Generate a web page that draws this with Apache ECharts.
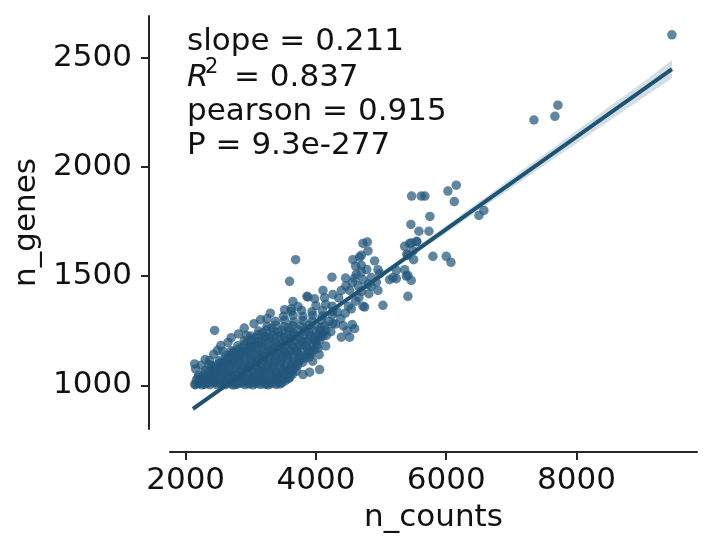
<!DOCTYPE html>
<html>
<head>
<meta charset="utf-8">
<script src="https://cdn.jsdelivr.net/npm/echarts@6/dist/echarts.min.js"></script>
<style>
html, body { margin: 0; padding: 0; background: #fff; }
#chart { width: 711px; height: 550px; }
</style>
</head>
<body>
<div id="chart"></div>
<script>
// cells: [n_counts, n_genes]
var cells = [
  // dense blob, bottom rows
  [2140,1004],[2195,1009],[2250,1002],[2310,1007],[2370,1003],[2430,1010],[2490,1002],[2550,1006],[2610,1003],[2670,1008],[2730,1001],[2790,1005],[2850,1009],[2910,1003],[2970,1006],[3030,1002],[3090,1008],[3150,1004],[3210,1007],[3270,1002],[3330,1009],[3390,1004],[3450,1006],
  [2165,1024],[2240,1030],[2310,1022],[2385,1027],[2455,1021],[2530,1029],[2600,1024],[2675,1031],[2745,1022],[2820,1027],[2890,1020],[2965,1030],[3035,1025],[3110,1021],[3180,1028],[3255,1023],[3325,1030],[3400,1024],[3470,1027],[3530,1021],
  [2200,1046],[2285,1051],[2370,1043],[2455,1050],[2540,1045],[2625,1052],[2710,1044],[2795,1049],[2880,1046],[2965,1053],[3050,1044],[3135,1050],[3220,1047],[3305,1052],[3390,1043],[3475,1049],[3560,1046],[3640,1051],
  [2300,1068],[2390,1073],[2480,1066],[2570,1072],[2660,1069],[2750,1075],[2840,1067],[2930,1071],[3020,1066],[3110,1074],[3200,1068],[3290,1072],[3380,1065],[3470,1073],[3560,1069],[3650,1071],[3700,1064],
  [2400,1090],[2495,1095],[2590,1088],[2685,1094],[2780,1091],[2875,1097],[2970,1089],[3065,1093],[3160,1088],[3255,1096],[3350,1090],[3445,1094],[3540,1089],[3630,1095],[3720,1091],
  [2520,1113],[2615,1118],[2710,1111],[2805,1117],[2900,1114],[2995,1119],[3090,1112],[3185,1116],[3280,1110],[3375,1118],[3470,1113],[3565,1117],[3660,1112],[3760,1116],
  [2620,1136],[2715,1141],[2810,1134],[2905,1140],[3000,1137],[3095,1142],[3190,1135],[3285,1139],[3380,1134],[3475,1141],[3570,1136],[3665,1140],[3760,1135],[3860,1139],
  [2700,1158],[2800,1163],[2900,1157],[3000,1162],[3100,1159],[3200,1164],[3300,1156],[3400,1161],[3500,1158],[3600,1163],[3700,1157],[3800,1162],[3900,1159],[3970,1164],
  [2800,1181],[2905,1186],[3010,1180],[3115,1185],[3220,1182],[3325,1187],[3430,1179],[3535,1184],[3640,1181],[3745,1186],[3850,1180],[3950,1185],[4010,1182],
  [2900,1204],[3010,1209],[3120,1202],[3230,1208],[3340,1205],[3450,1210],[3560,1203],[3670,1207],[3780,1202],[3890,1209],[3990,1204],[4060,1208],
  [3000,1226],[3115,1231],[3230,1224],[3345,1230],[3460,1227],[3575,1232],[3690,1225],[3805,1229],[3920,1224],[4030,1231],[4110,1226],
  [3120,1248],[3240,1253],[3360,1246],[3480,1252],[3600,1249],[3720,1254],[3840,1247],[3960,1251],[4070,1246],[4150,1253],
  [3250,1270],[3380,1275],[3510,1268],[3640,1274],[3770,1271],[3900,1276],[4020,1269],[4140,1273],
  [3380,1293],[3520,1298],[3660,1291],[3800,1297],[3940,1294],[4080,1299],[4200,1292],
  [3500,1316],[3650,1321],[3800,1315],[3950,1320],[4100,1317],[4250,1322],
  [3620,1338],[3780,1343],[3940,1337],[4100,1342],[4260,1339],
  // second pass over the blob, between the rows
  [2220,1015],[2340,1013],[2460,1016],[2580,1014],[2700,1017],[2820,1013],[2940,1016],[3060,1014],[3180,1017],[3300,1013],[3420,1016],
  [2260,1037],[2420,1036],[2570,1039],[2720,1035],[2870,1038],[3020,1036],[3170,1039],[3320,1035],[3500,1038],[3600,1036],
  [2340,1058],[2510,1060],[2690,1057],[2870,1061],[3050,1058],[3230,1060],[3410,1057],[3600,1060],
  [2440,1081],[2620,1082],[2800,1080],[2980,1083],[3160,1081],[3340,1082],[3520,1080],[3680,1083],
  [2560,1104],[2740,1105],[2920,1103],[3100,1106],[3280,1104],[3460,1105],[3640,1103],[3800,1106],
  [2660,1127],[2840,1128],[3020,1126],[3200,1129],[3380,1127],[3560,1128],[3740,1126],[3900,1129],
  [2760,1149],[2950,1150],[3140,1148],[3330,1151],[3520,1149],[3710,1150],[3900,1148],
  [2860,1172],[3060,1173],[3260,1171],[3460,1174],[3660,1172],[3860,1173],
  [2960,1195],[3170,1196],[3380,1194],[3590,1197],[3800,1195],[4000,1196],
  [3060,1217],[3290,1218],[3520,1216],[3750,1219],[3980,1217],
  [3180,1239],[3420,1240],[3660,1238],[3900,1241],[4100,1239],
  [3320,1261],[3580,1262],[3840,1260],[4080,1263],
  // third pass, the densest core
  [2280,1005],[2520,1012],[2760,1004],[3000,1011],[3240,1005],[3480,1012],
  [2380,1034],[2640,1041],[2900,1033],[3160,1040],[3420,1034],[3580,1030],
  [2440,1062],[2780,1055],[3140,1063],[3500,1056],
  [2530,1085],[2890,1078],[3250,1086],[3610,1078],
  [2650,1108],[3010,1100],[3370,1108],[3720,1100],
  [2780,1130],[3140,1122],[3500,1131],[3820,1123],
  [2880,1152],[3240,1145],[3600,1153],[3930,1146],
  [2990,1176],[3360,1168],[3730,1176],[4030,1170],
  [3100,1198],[3480,1190],[3860,1199],
  [3220,1222],[3620,1213],[4050,1220],
  // loose points round the blob
  [2138,1098],[2153,1075],[2189,1034],[2153,1003],[2240,1092],[2300,1118],[2368,1113],[2358,1095],[2419,1067],[2533,1103],
  [2430,1142],[2490,1160],[2573,1155],[2540,1182],[2650,1196],[2726,1152],[2700,1218],[2810,1235],[2932,1228],[2445,1251],
  [2900,1262],[3050,1282],[3248,1305],[3150,1300],[3300,1330],[3596,1476],[3689,1575],
  [3801,1049],[3903,1060],[4057,1072],[3950,1110],[4050,1140],[4150,1180],
  // middle band
  [3520,1346],[3622,1350],[3724,1361],[3647,1384],[3877,1404],[3862,1407],[3980,1396],[4134,1401],[4261,1416],[4108,1434],
  [4000,1365],[4150,1370],[4250,1362],[4330,1335],[4380,1305],[4300,1280],[4420,1272],[4261,1282],[4390,1220],[4517,1220],
  [4594,1259],[4558,1278],[4480,1250],[4160,1228],[4230,1245],[4450,1330],[4500,1362],[4543,1350],[4610,1385],[4660,1402],
  [4390,1434],[4517,1434],[4460,1455],[4560,1470],[4350,1400],[4246,1495],[4456,1491],[4594,1491],[4722,1483],[4850,1493],
  [4978,1511],[4722,1362],[4748,1358],[5029,1366],[4813,1419],[4952,1434],[4850,1453],[4799,1462],[4928,1472],[4700,1430],[4650,1455],
  // upper sparse points
  [4722,1649],[4789,1656],[4799,1615],[4697,1595],[4568,1575],[4901,1569],[4697,1549],[4952,1529],[4697,1518],[4670,1587],[4610,1545],[4780,1530],[4620,1508],
  [5362,1636],[5438,1649],[5541,1656],[5396,1600],[5500,1575],[5362,1529],[5412,1503],[5464,1480],[5388,1500],[5131,1483],[5234,1488],
  [5234,1526],[5183,1493],[5412,1407],[5464,1651],[5489,1615],[5412,1595],[5550,1659],
  [5469,1866],[5617,1866],[5673,1866],[6026,1889],[6155,1916],[6124,1841],[5750,1773],[5458,1736],[5581,1705],[5735,1705],
  [5796,1590],[6001,1590],[6073,1563],
  [6502,1777],[6579,1800],[7347,2214],[7669,2231],[7715,2282],[9465,2604]
];

// regression line ends and 95% band
var fitX = [2112, 9465];
var fitY = [892, 2447];
var bandX  = [2112, 2600, 3100, 3600, 4100, 4600, 5100, 5600, 6100, 6600, 7100, 7600, 8100, 8600, 9100, 9465];
var bandLo = [880, 989, 1096, 1202, 1306, 1410, 1513, 1616, 1718, 1821, 1923, 2026, 2127, 2230, 2332, 2405];
var bandHi = [905, 1005, 1108, 1214, 1320, 1428, 1535, 1644, 1752, 1861, 1969, 2078, 2187, 2296, 2404, 2489];

var xTicks = [2000, 4000, 6000, 8000];
var yTicks = [1000, 1500, 2000, 2500];

var statLines = ['slope = 0.211', '= 0.837', 'pearson = 0.915', 'P = 9.3e-277'];

var FONT = 'DejaVu Sans';
var FS = 31;
var INK = '#262626';
var TXT = '#111';
var DOT = '#22587b';
var LINE = '#1f5374';

var fitData = fitX.map(function (x, i) { return [x, fitY[i]]; });

var chart = echarts.init(document.getElementById('chart'));

function axisCommon(ticks) {
   return {
      type: 'value',
      nameLocation: 'middle',
      nameTextStyle: { fontFamily: FONT, fontSize: FS, color: TXT },
      axisLine: { show: true, onZero: false, lineStyle: { color: INK, width: 2 } },
      axisTick: { show: true, length: 8, lineStyle: { color: INK, width: 2 }, customValues: ticks },
      axisLabel: { customValues: ticks, fontFamily: FONT, fontSize: FS, color: TXT,
                   formatter: function (v) { return String(v); } },
      splitLine: { show: false }
   };
}

var xAxis = axisCommon(xTicks);
xAxis.min = 1760; xAxis.max = 9850;
xAxis.offset = 23;
xAxis.name = 'n_counts';
xAxis.nameGap = 50;
xAxis.axisLabel.margin = 13;

var yAxis = axisCommon(yTicks);
yAxis.min = 800; yAxis.max = 2690;
yAxis.offset = 21;
yAxis.name = 'n_genes';
yAxis.nameGap = 86;
yAxis.axisLabel.margin = 17;

// confidence band drawn as one polygon through the axes
function renderBand(params, api) {
   var pts = [];
   for (var i = 0; i < bandX.length; i++) pts.push(api.coord([bandX[i], bandHi[i]]));
   for (var j = bandX.length - 1; j >= 0; j--) pts.push(api.coord([bandX[j], bandLo[j]]));
   return { type: 'polygon', shape: { points: pts }, style: { fill: 'rgba(31,84,120,0.2)' } };
}

var option = {
   animation: false,
   backgroundColor: '#fff',
   grid: { left: 170, right: 14, top: 16, bottom: 121 },
   xAxis: xAxis,
   yAxis: yAxis,
   graphic: [
      { type: 'text', left: 187, top: 26, style: { text: statLines[0], fontFamily: FONT, fontSize: FS, fill: TXT } },
      { type: 'text', left: 187, top: 62, style: { text: 'R', fontFamily: FONT, fontStyle: 'italic', fontSize: FS, fill: TXT } },
      { type: 'text', left: 205, top: 57, style: { text: '2', fontFamily: FONT, fontSize: 21, fill: TXT } },
      { type: 'text', left: 234, top: 62, style: { text: statLines[1], fontFamily: FONT, fontSize: FS, fill: TXT } },
      { type: 'text', left: 187, top: 96, style: { text: statLines[2], fontFamily: FONT, fontSize: FS, fill: TXT } },
      { type: 'text', left: 187, top: 130, style: { text: statLines[3], fontFamily: FONT, fontSize: FS, fill: TXT } }
   ],
   series: [
      {
         type: 'scatter',
         data: cells,
         symbolSize: 9.5,
         itemStyle: { color: DOT, opacity: 0.72 },
         silent: true,
         z: 2
      },
      {
         type: 'custom',
         data: [[bandX[0], bandLo[0]]],
         renderItem: renderBand,
         silent: true,
         z: 3
      },
      {
         type: 'line',
         data: fitData,
         showSymbol: false,
         lineStyle: { color: LINE, width: 4 },
         silent: true,
         z: 4
      }
   ]
};
chart.setOption(option);
</script>
</body>
</html>
